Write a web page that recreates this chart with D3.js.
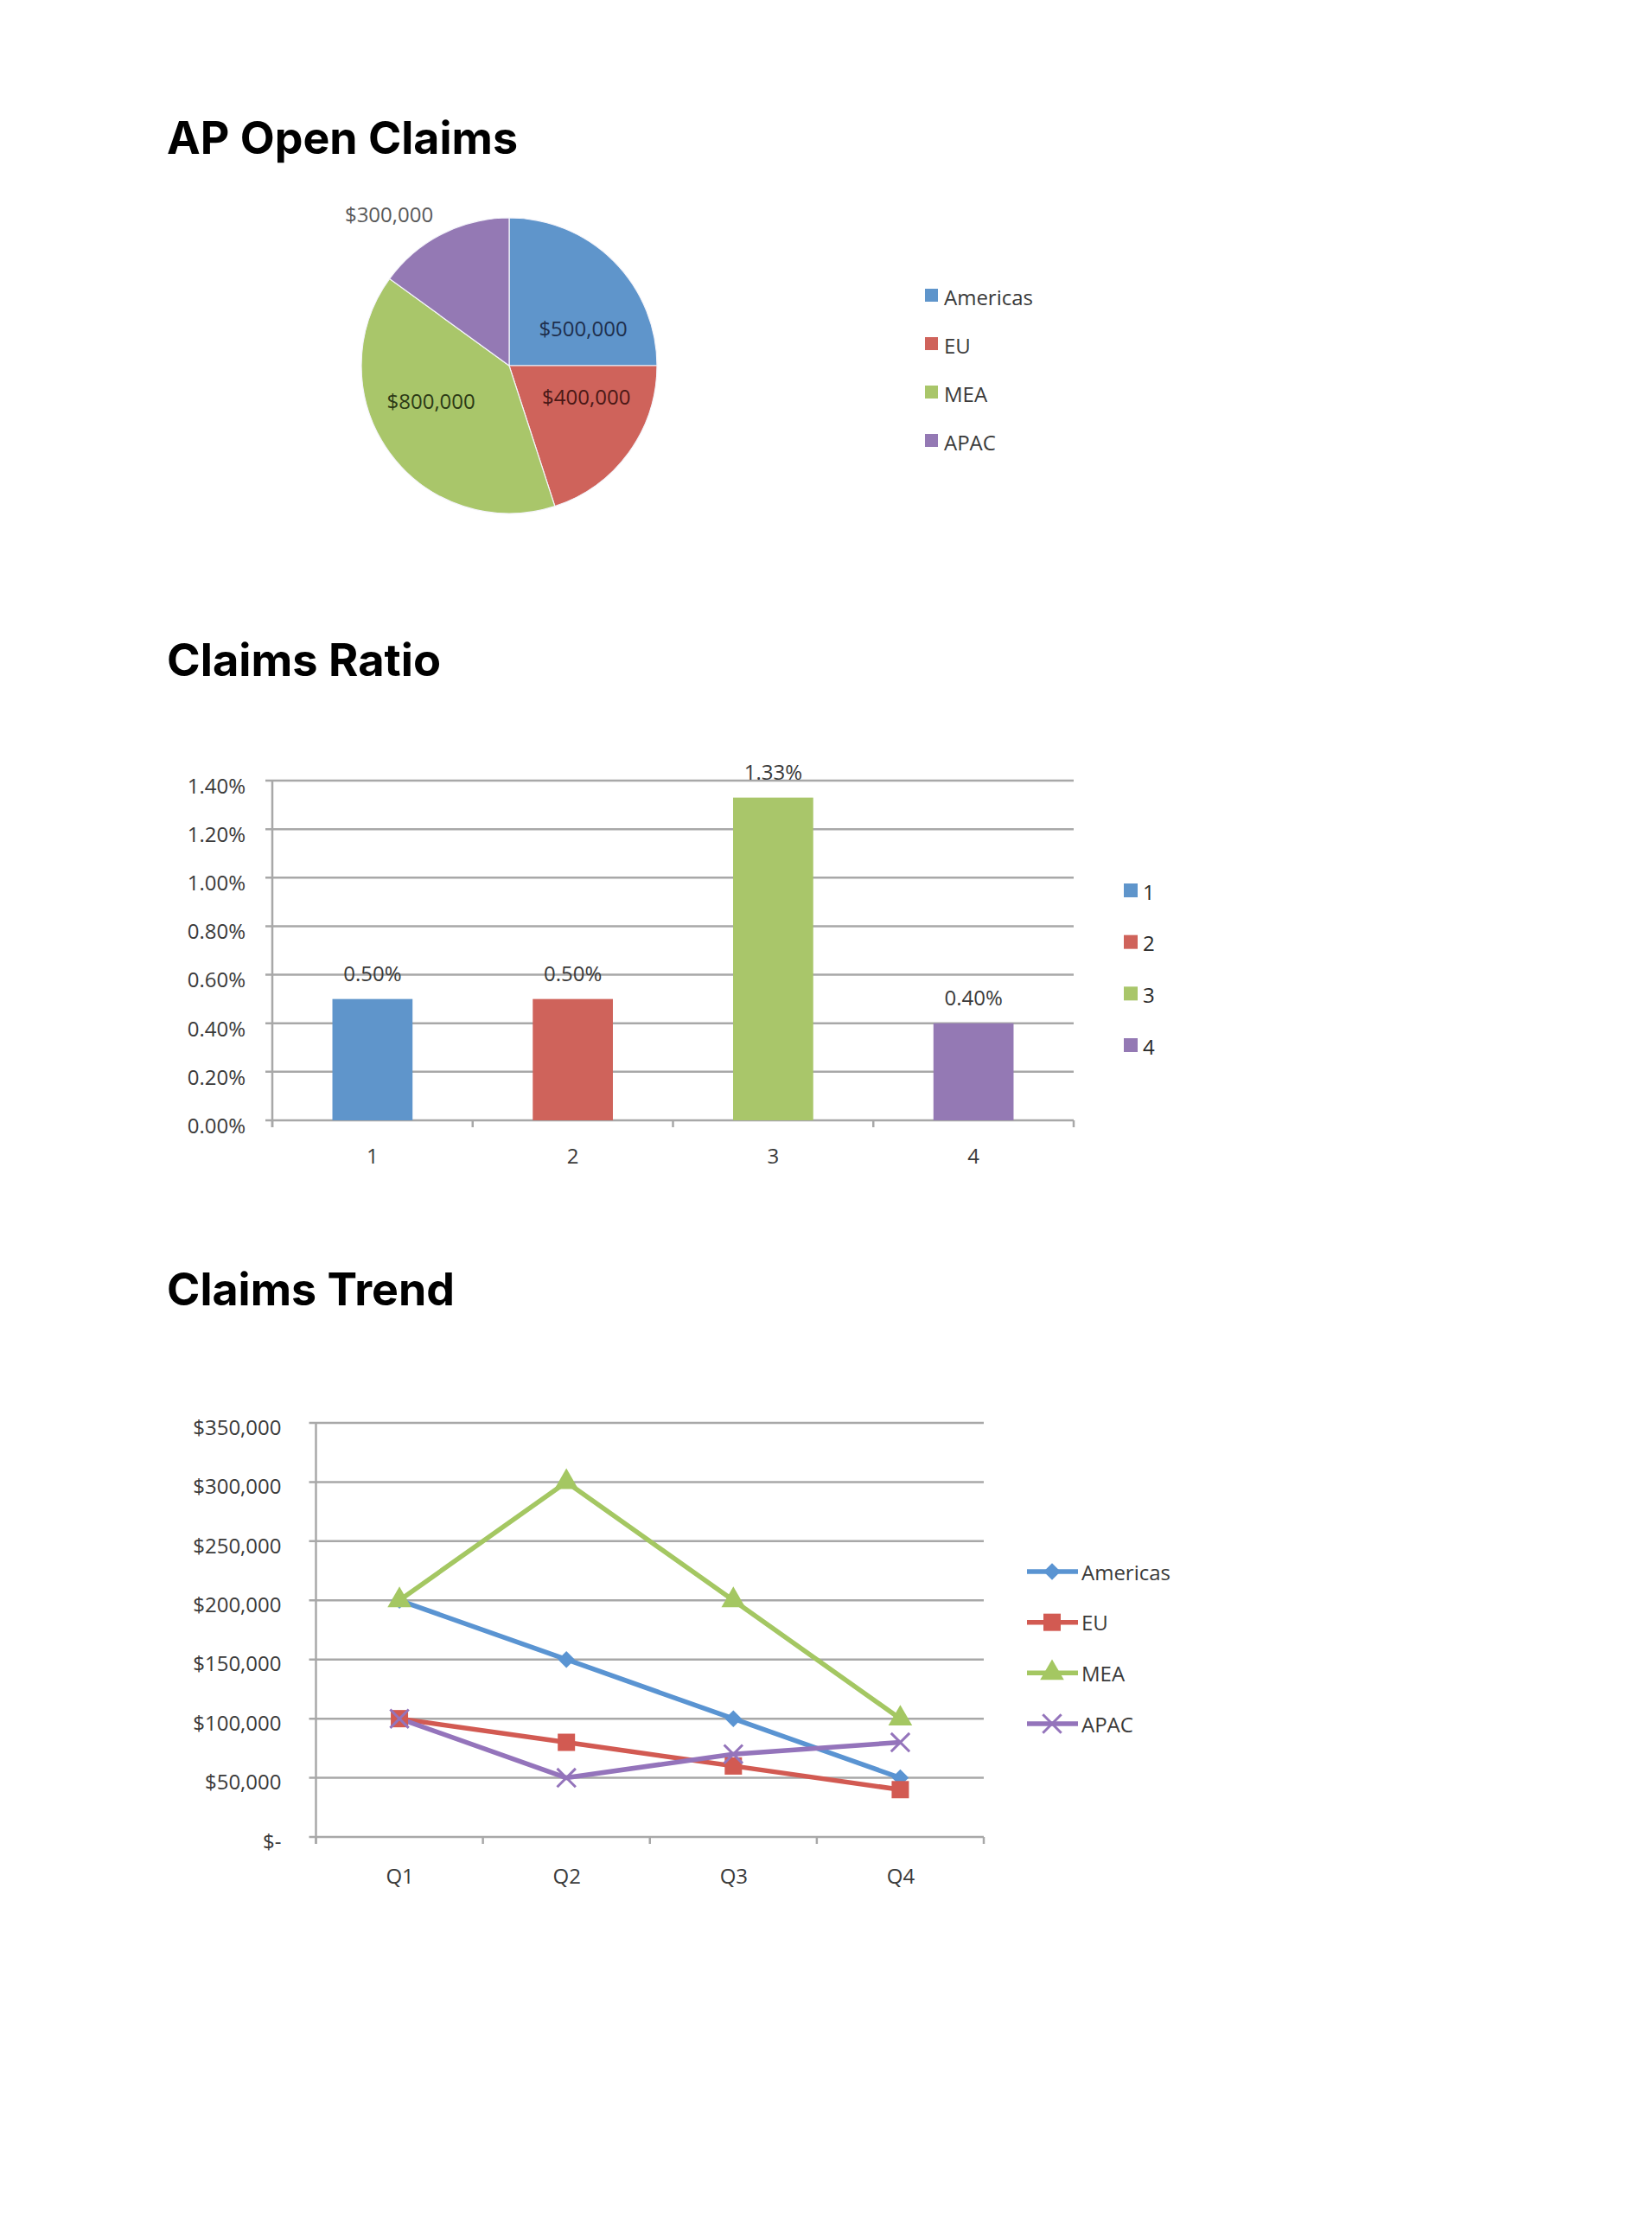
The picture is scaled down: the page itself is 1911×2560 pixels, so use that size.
<!DOCTYPE html>
<html>
<head>
<meta charset="utf-8">
<script src="https://cdn.jsdelivr.net/npm/d3@7/dist/d3.min.js"></script>
<style>
  html, body { margin: 0; padding: 0; background: #ffffff; }
  svg { display: block; }
  .title { font-family: "Inter", "Lato", sans-serif; font-weight: 700; fill: #000; }
  .xl { font-family: "Open Sans", "Liberation Sans", sans-serif; fill: #3a3a3a; }
</style>
</head>
<body>
<svg id="page" width="1911" height="2560"></svg>
<script>
// ---------- data ----------
const titles = ["AP Open Claims", "Claims Ratio", "Claims Trend"];

const regions = ["Americas", "EU", "MEA", "APAC"];
const openClaims = [500000, 400000, 800000, 300000];

const ratioCategories = ["1", "2", "3", "4"];
const ratioValues = [0.50, 0.50, 1.33, 0.40];           // percent
const ratioTicks = [0, 0.2, 0.4, 0.6, 0.8, 1.0, 1.2, 1.4];

const quarters = ["Q1", "Q2", "Q3", "Q4"];
const trendAmericas = [200000, 150000, 100000, 50000];
const trendEU = [100000, 80000, 60000, 40000];
const trendMEA = [200000, 300000, 200000, 100000];
const trendAPAC = [100000, 50000, 70000, 80000];
const trendTicks = [0, 50000, 100000, 150000, 200000, 250000, 300000, 350000];

// ---------- styles ----------
const colors = ["#5f95cb", "#cf635b", "#a9c66a", "#9479b4"];
const labelColors = ["#1e2f4d", "#4a1816", "#2c3a16", "#595959"];
const lineColors = ["#5a94d2", "#d25a52", "#a4c762", "#9474bb"];
const gridColor = "#a8a8a8";
const fs = 24;

const svg = d3.select("#page");
svg.append("rect").attr("width", 1911).attr("height", 2560).attr("fill", "#fff");

// ---------- titles ----------
const titleLayout = [
  {x: 193, y: 178, w: 406},
  {x: 193, y: 782, w: 317},
  {x: 193, y: 1510, w: 333}
];
titles.forEach((t, i) => {
  svg.append("text").attr("class", "title")
    .attr("x", titleLayout[i].x).attr("y", titleLayout[i].y)
    .attr("font-size", 52)
    .attr("textLength", titleLayout[i].w)
    .attr("lengthAdjust", "spacingAndGlyphs")
    .text(t);
});

// ---------- pie ----------
(function() {
  const cx = 589, cy = 423, r = 171;
  const g = svg.append("g").attr("transform", `translate(${cx},${cy})`);
  const pie = d3.pie().sort(null).value(d => d.v);
  const data = pie(regions.map((k, i) => ({k, v: openClaims[i], i})));
  const arc = d3.arc().innerRadius(0).outerRadius(r);
  g.selectAll("path").data(data).join("path")
    .attr("d", arc)
    .attr("fill", d => colors[d.data.i])
    .attr("stroke", "#f4f4fa").attr("stroke-width", 1.2);

  const fmt = v => "$" + d3.format(",")(v);
  data.forEach(d => {
    const mid = (d.startAngle + d.endAngle) / 2;
    const share = (d.endAngle - d.startAngle) / (2 * Math.PI);
    const inside = share > 0.16;
    const right = Math.sin(mid) >= 0;
    // pull label angle toward the horizontal (best-fit style)
    const horiz = right ? Math.PI / 2 : 3 * Math.PI / 2;
    const pull = inside ? (right ? 0.4 : 0.33) : 0.18;
    const ang = mid + (horiz - mid) * pull;
    const lr = inside ? (right ? 96 : 99) : 224;
    const la = d3.arc().innerRadius(lr).outerRadius(lr).startAngle(ang).endAngle(ang);
    const [lx, ly] = la.centroid();
    g.append("text").attr("class", "xl")
      .attr("x", lx).attr("y", ly)
      .attr("text-anchor", "middle").attr("dominant-baseline", "central")
      .attr("font-size", fs)
      .style("fill", inside ? labelColors[d.data.i] : labelColors[3])
      .text(fmt(d.data.v));
  });

  // legend
  const ly = d3.scalePoint().domain(regions).range([343, 511]);
  const lg = svg.append("g");
  regions.forEach((k, i) => {
    lg.append("rect").attr("x", 1070).attr("y", ly(k) - 9).attr("width", 15).attr("height", 15)
      .attr("fill", colors[i]);
    lg.append("text").attr("class", "xl").attr("x", 1092).attr("y", ly(k))
      .attr("dominant-baseline", "central").attr("font-size", fs).text(k);
  });
})();

// ---------- bar chart ----------
(function() {
  const x0 = 315, x1 = 1242, yTop = 903, yBot = 1296;
  const x = d3.scaleBand().domain(ratioCategories).range([x0, x1]).paddingInner(0.6).paddingOuter(0.3);
  const y = d3.scaleLinear().domain([0, 1.4]).range([yBot, yTop]);
  const g = svg.append("g");

  g.selectAll("line.grid").data(ratioTicks).join("line")
    .attr("x1", x0 - 8).attr("x2", x1)
    .attr("y1", d => y(d)).attr("y2", d => y(d))
    .attr("stroke", gridColor).attr("stroke-width", 2.5);

  g.append("line").attr("x1", x0).attr("x2", x0).attr("y1", yTop).attr("y2", yBot + 8)
    .attr("stroke", gridColor).attr("stroke-width", 2.5);

  const step = x.step();
  const bounds = d3.range(ratioCategories.length + 1).map(i => x0 + i * step);
  g.selectAll("line.xt").data(bounds).join("line")
    .attr("x1", d => d).attr("x2", d => d).attr("y1", yBot).attr("y2", yBot + 8)
    .attr("stroke", gridColor).attr("stroke-width", 2.5);

  const ya = g.append("g").attr("transform", `translate(${x0 - 28},0)`)
    .call(d3.axisLeft(y).tickValues(ratioTicks).tickSize(0).tickFormat(d => d3.format(".2f")(d) + "%"));
  ya.select(".domain").remove();
  ya.selectAll("text").attr("class", "xl").attr("font-size", fs).attr("dy", "0.6em")
    .attr("fill", null).attr("font-family", null);

  const xa = g.append("g").attr("transform", `translate(0,${yBot + 28})`)
    .call(d3.axisBottom(x).tickSize(0));
  xa.select(".domain").remove();
  xa.selectAll("text").attr("class", "xl").attr("font-size", fs).attr("dy", "0.8em")
    .attr("fill", null).attr("font-family", null);

  g.selectAll("rect.bar").data(ratioValues).join("rect")
    .attr("x", (d, i) => x(ratioCategories[i]))
    .attr("width", x.bandwidth())
    .attr("y", d => y(d))
    .attr("height", d => yBot - y(d))
    .attr("fill", (d, i) => colors[i]);

  g.selectAll("text.val").data(ratioValues).join("text")
    .attr("class", "xl")
    .attr("x", (d, i) => x(ratioCategories[i]) + x.bandwidth() / 2)
    .attr("y", d => y(d) - 21)
    .attr("text-anchor", "middle").attr("font-size", fs)
    .text(d => d3.format(".2f")(d) + "%");

  const ly = d3.scalePoint().domain(ratioCategories).range([1031, 1210]);
  ratioCategories.forEach((k, i) => {
    g.append("rect").attr("x", 1300).attr("y", ly(k) - 9).attr("width", 16).attr("height", 16)
      .attr("fill", colors[i]);
    g.append("text").attr("class", "xl").attr("x", 1322).attr("y", ly(k))
      .attr("dominant-baseline", "central").attr("font-size", fs).style("fill", "#2a2a2a").text(k);
  });
})();

// ---------- line chart ----------
(function() {
  const x0 = 365.5, x1 = 1138, yTop = 1646, yBot = 2125;
  const x = d3.scalePoint().domain(quarters).range([x0, x1]).padding(0.5);
  const y = d3.scaleLinear().domain([0, 350000]).range([yBot, yTop]);
  const g = svg.append("g");

  g.selectAll("line.grid").data(trendTicks).join("line")
    .attr("x1", x0 - 8).attr("x2", x1)
    .attr("y1", d => y(d)).attr("y2", d => y(d))
    .attr("stroke", gridColor).attr("stroke-width", 2.5);

  g.append("line").attr("x1", x0).attr("x2", x0).attr("y1", yTop).attr("y2", yBot + 8)
    .attr("stroke", gridColor).attr("stroke-width", 2.5);

  const step = x.step();
  const bounds = d3.range(quarters.length + 1).map(i => x0 + i * step);
  g.selectAll("line.xt").data(bounds).join("line")
    .attr("x1", d => d).attr("x2", d => d).attr("y1", yBot).attr("y2", yBot + 8)
    .attr("stroke", gridColor).attr("stroke-width", 2.5);

  const ya = g.append("g").attr("transform", `translate(${x0 - 37},0)`)
    .call(d3.axisLeft(y).tickValues(trendTicks).tickSize(0)
      .tickFormat(d => d === 0 ? "$-" : "$" + d3.format(",")(d)));
  ya.select(".domain").remove();
  ya.selectAll("text").attr("class", "xl").attr("font-size", fs).attr("dy", "0.55em")
    .attr("fill", null).attr("font-family", null);

  const xa = g.append("g").attr("transform", `translate(0,${yBot + 32})`)
    .call(d3.axisBottom(x).tickSize(0));
  xa.select(".domain").remove();
  xa.selectAll("text").attr("class", "xl").attr("font-size", fs).attr("dy", "0.8em")
    .attr("fill", null).attr("font-family", null);

  const series = [trendAmericas, trendEU, trendMEA, trendAPAC];
  const symbols = [
    {type: d3.symbolSquare, size: 190, rot: 45, fill: true},
    {type: d3.symbolSquare, size: 400, rot: 0, fill: true},
    {type: d3.symbolTriangle, size: 330, rot: 0, fill: true},
    {type: d3.symbolTimes || d3.symbolX, size: 300, rot: 0, fill: false}
  ];
  const line = d3.line().x((d, i) => x(quarters[i])).y(d => y(d));

  function marker(sel, i, px, py) {
    const s = symbols[i];
    const p = sel.append("path")
      .attr("d", d3.symbol().type(s.type).size(s.size)())
      .attr("transform", `translate(${px},${py}) rotate(${s.rot})`);
    if (s.fill) p.attr("fill", lineColors[i]);
    else p.attr("fill", "none").attr("stroke", lineColors[i]).attr("stroke-width", 3);
  }

  series.forEach((vals, i) => {
    g.append("path").datum(vals).attr("d", line)
      .attr("fill", "none").attr("stroke", lineColors[i]).attr("stroke-width", 5.5)
      .attr("stroke-linejoin", "round");
  });
  series.forEach((vals, i) => {
    vals.forEach((v, j) => marker(g, i, x(quarters[j]), y(v)));
  });

  const ly = d3.scalePoint().domain(regions).range([1818, 1994]);
  regions.forEach((k, i) => {
    g.append("line").attr("x1", 1188).attr("x2", 1247).attr("y1", ly(k)).attr("y2", ly(k))
      .attr("stroke", lineColors[i]).attr("stroke-width", 5.5);
    marker(g, i, 1217, ly(k));
    g.append("text").attr("class", "xl").attr("x", 1251).attr("y", ly(k))
      .attr("dominant-baseline", "central").attr("font-size", fs).text(k);
  });
})();
</script>
</body>
</html>
